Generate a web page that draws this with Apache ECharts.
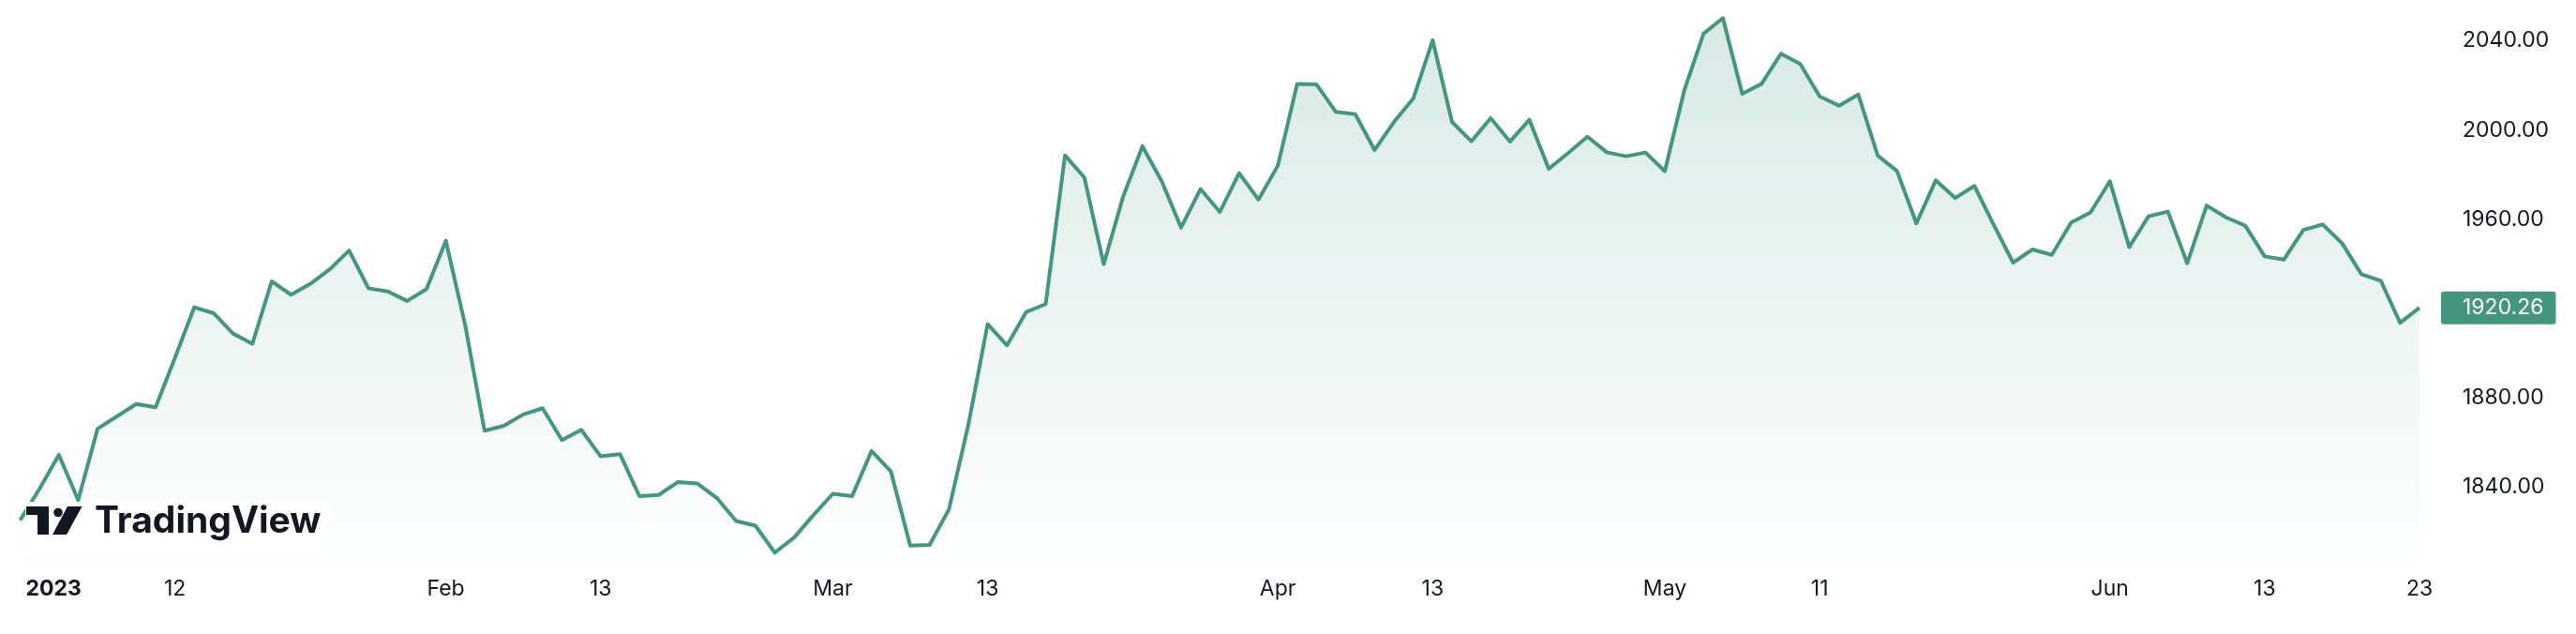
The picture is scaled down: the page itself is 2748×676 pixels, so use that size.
<!DOCTYPE html>
<html>
<head>
<meta charset="utf-8">
<script src="https://cdn.jsdelivr.net/npm/echarts@6/dist/echarts.min.js"></script>
<style>
  html, body { margin: 0; padding: 0; background: #ffffff; }
  #chart { width: 2748px; height: 676px; }
</style>
</head>
<body>
<div id="chart"></div>
<script>
// Daily close values (XAUUSD-like), one per weekday, 2 Jan – 23 Jun 2023
const janValues = [1825, 1839, 1854.3, 1834, 1866, 1871.5, 1877.1, 1875.6, 1897.8, 1920.5, 1917.8,
  1908.7, 1904.1, 1932.1, 1926.1, 1931, 1937.5, 1945.9, 1929, 1927.6, 1923.3, 1928.6];
const febValues = [1950.3, 1912.5, 1865.1, 1867.3, 1872.4, 1875.2, 1860.9, 1865.5, 1853.6, 1854.6,
  1835.8, 1836.3, 1842.1, 1841.4, 1835, 1824.6, 1822.5, 1810.4, 1817.2, 1827.3];
const marValues = [1836.8, 1835.8, 1856, 1846.9, 1813.6, 1813.9, 1829.8, 1867.6, 1912.9, 1903.4,
  1918.4, 1921.9, 1988.6, 1978.7, 1939.8, 1970, 1992.7, 1977, 1956.2, 1973.5, 1963.2, 1980.6, 1968.8];
const aprValues = [1984, 2020.7, 2020.4, 2008.1, 2007.1, 1991, 2003.6, 2014.1, 2040.3, 2003.6,
  1994.9, 2005.3, 1994.8, 2004.6, 1982.6, 1989.6, 1997, 1990, 1988.2, 1989.9];
const mayValues = [1981.5, 2017.6, 2043.2, 2050.2, 2016.2, 2020.7, 2034.2, 2029.6, 2015.1, 2010.9,
  2015.9, 1988.5, 1981.6, 1958.1, 1977.4, 1969.5, 1974.9, 1957.4, 1940.5, 1946.4, 1944, 1958.5, 1963];
const junValues = [1977, 1947.5, 1961.3, 1963.4, 1940.2, 1966.1, 1960.8, 1957.1, 1943.3, 1941.9,
  1955.2, 1957.6, 1949.2, 1935.3, 1932.4, 1913.5, 1920.26];

// Tick labels on the time axis
const labelDates = ['2023-01-02', '2023-01-12', '2023-02-01', '2023-02-13', '2023-03-01', '2023-03-13',
  '2023-04-03', '2023-04-13', '2023-05-01', '2023-05-11', '2023-06-01', '2023-06-13', '2023-06-23'];
const labelTexts = ['2023', '12', 'Feb', '13', 'Mar', '13', 'Apr', '13', 'May', '11', 'Jun', '13', '23'];

// Price axis tick labels
const priceTicks = [1840, 1880, 1960, 2000, 2040];

// Categories: every weekday from 2 Jan to 23 Jun 2023
const categories = [];
for (let t = Date.UTC(2023, 0, 2); t <= Date.UTC(2023, 5, 23); t += 86400000) {
  const d = new Date(t);
  const wd = d.getUTCDay();
  if (wd === 0 || wd === 6) continue;
  categories.push(d.toISOString().slice(0, 10));
}

const values = [].concat(janValues, febValues, marValues, aprValues, mayValues, junValues);
const lastValue = values[values.length - 1];

const GREEN = '#44967f';
const TEXT = '#131722';
const FONT = 'Inter, "Noto Sans", sans-serif';

const chart = echarts.init(document.getElementById('chart'), null, { renderer: 'canvas' });

chart.setOption({
  animation: false,
  backgroundColor: '#ffffff',
  grid: { left: 21.5, right: 167, top: 0, bottom: 62, containLabel: false, outerBoundsMode: 'none' },
  xAxis: {
    type: 'category',
    data: categories,
    boundaryGap: false,
    axisLine: { show: false },
    axisTick: { show: false },
    splitLine: { show: false },
    axisLabel: {
      margin: 3,
      fontSize: 23,
      color: TEXT,
      fontFamily: FONT,
      alignMinLabel: 'left',
      interval: function (idx, value) { return labelDates.indexOf(value) >= 0; },
      formatter: function (value) {
        const k = labelDates.indexOf(value);
        if (k < 0) return '';
        if (k === 0) return '{y|' + labelTexts[k] + '}';
        return labelTexts[k];
      },
      rich: {
        y: { fontWeight: 'bold', fontSize: 23, color: TEXT, fontFamily: FONT, padding: [0, 0, 0, 6] }
      }
    }
  },
  yAxis: {
    type: 'value',
    position: 'right',
    min: 1800,
    max: 2058.3,
    interval: 40,
    scale: true,
    axisLine: { show: false },
    axisTick: { show: false },
    splitLine: { show: false },
    axisLabel: {
      margin: 46,
      fontSize: 23,
      color: TEXT,
      fontFamily: FONT,
      formatter: function (v) {
        return priceTicks.indexOf(Math.round(v)) >= 0 && Math.abs(v - Math.round(v)) < 1e-6 ? v.toFixed(2) : '';
      }
    }
  },
  series: [{
    type: 'line',
    data: values,
    symbol: 'none',
    smooth: false,
    clip: false,
    lineStyle: { color: GREEN, width: 4, join: 'round' },
    areaStyle: {
      color: new echarts.graphic.LinearGradient(0, 0, 0, 614, [
        { offset: 0, color: 'rgba(68,150,127,0.30)' },
        { offset: 1, color: 'rgba(68,150,127,0.0)' }
      ], true)
    },
    markLine: {
      silent: true,
      symbol: 'none',
      lineStyle: { color: 'rgba(0,0,0,0)', width: 0, type: 'solid' },
      data: [{ yAxis: lastValue }],
      label: {
        show: true,
        position: 'end',
        distance: 23,
        formatter: lastValue.toFixed(2),
        backgroundColor: GREEN,
        color: '#ffffff',
        opacity: 1,
        fontSize: 23,
        lineHeight: 23,
        fontFamily: FONT,
        padding: [6, 13, 6, 23],
        borderRadius: 3
      }
    }
  }],
  graphic: [
    { type: 'rect', z: 100, shape: { x: 27, y: 535, width: 326, height: 57 }, style: { fill: 'rgba(255,255,255,0.92)' } },
    { type: 'polygon', z: 101, shape: { points: [[28, 540], [52, 540], [52, 570], [40, 570], [40, 549], [28, 549]] }, style: { fill: TEXT } },
    { type: 'circle', z: 101, shape: { cx: 62, cy: 546.5, r: 4.8 }, style: { fill: TEXT } },
    { type: 'polygon', z: 101, shape: { points: [[72, 540], [87.5, 540], [71, 570], [56, 570]] }, style: { fill: TEXT } },
    { type: 'text', z: 101, x: 101, y: 556, style: { text: 'TradingView', fill: TEXT, font: 'bold 39px ' + FONT, verticalAlign: 'middle', align: 'left' } }
  ]
});
</script>
</body>
</html>
